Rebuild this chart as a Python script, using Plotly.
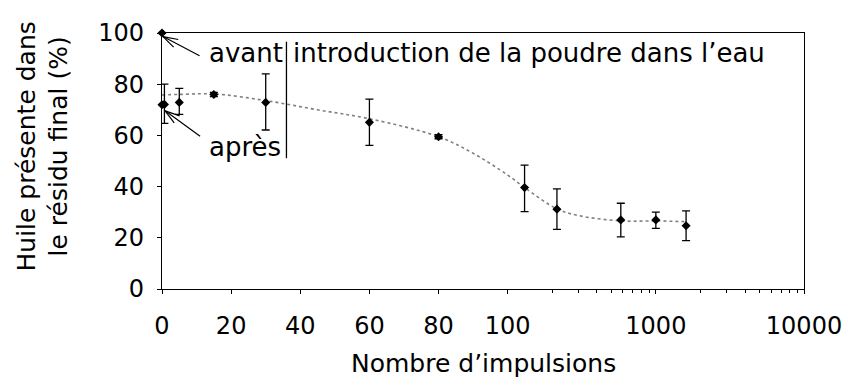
import math
import plotly.graph_objects as go

# Measured oil content in the final residue versus number of pulses
pulses = [0, 0, 0.7, 5, 15, 30, 60, 80, 130, 215, 580, 1000, 1600]
oil_pct = [100, 72, 72.1, 72.9, 76.0, 72.9, 65.1, 59.5, 39.6, 31.2, 27.0, 27.0, 24.7]
err_plus = [0, 0, 7.9, 5.5, 0.8, 11.1, 9.1, 0.8, 8.8, 7.9, 6.5, 3.0, 5.8]
err_minus = [0, 0, 7.4, 4.7, 0.8, 10.8, 9.0, 0.8, 9.4, 7.9, 6.6, 3.3, 5.8]

# Smooth trend line drawn through the measurements
trend_x = [0, 5, 15, 30, 45, 60, 80, 90, 100, 130, 215, 300, 580, 1000, 1600]
trend_y = [75.8, 76.0, 76.2, 73.6, 70.0, 66.5, 59.5, 53.0, 44.5, 39.6, 31.3, 28.7, 26.6, 26.6, 26.3]

# Axis ticks: linear from 0 to 100, then logarithmic decades
lin_ticks = [0, 20, 40, 60, 80, 100]
log_ticks = [1000, 10000]
minor_log_ticks = [200, 300, 400, 500, 600, 700, 800, 900,
                   2000, 3000, 4000, 5000, 6000, 7000, 8000, 9000]
y_ticks = [0, 20, 40, 60, 80, 100]

DECADE = 150 / 3.5  # width of one log decade in linear-axis units


def xpos(v):
    """Map a pulse count to the broken linear/log axis."""
    if v <= 100:
        return v
    return 100 + DECADE * math.log10(v / 100)


FONT = "DejaVu Sans"

fig = go.Figure()

fig.add_trace(go.Scatter(
    x=[xpos(v) for v in trend_x], y=trend_y,
    mode="lines", line=dict(color="#808080", width=1.6, dash="dot", shape="spline", smoothing=1.0),
    hoverinfo="skip", showlegend=False,
))

fig.add_trace(go.Scatter(
    x=[xpos(v) for v in pulses], y=oil_pct,
    mode="markers",
    marker=dict(symbol="diamond", size=7, color="black"),
    error_y=dict(type="data", symmetric=False, array=err_plus, arrayminus=err_minus,
                 color="black", thickness=1.3, width=4),
    cliponaxis=False, showlegend=False,
))

# separator between "avant/après" and the event label
fig.add_shape(type="line", xref="x", yref="y", x0=36, x1=36, y0=96.6, y1=51.1,
              line=dict(color="black", width=1.3))

annotations = []


def open_arrow(tip_x, tip_y, dx, dy, head=17, spread=17):
    """Shaft plus two short wings forming an open arrowhead."""
    items = [dict(x=tip_x, y=tip_y, ax=dx, ay=dy)]
    ang = math.atan2(dy, dx)
    for s in (-1, 1):
        a = ang + s * math.radians(spread)
        items.append(dict(x=tip_x, y=tip_y, ax=head * math.cos(a), ay=head * math.sin(a)))
    for it in items:
        it.update(xref="x", yref="y", axref="pixel", ayref="pixel", text="",
                  showarrow=True, arrowhead=0, arrowwidth=1.2, arrowcolor="black",
                  standoff=0, startstandoff=0)
    return items


annotations += open_arrow(0.3, 98.6, 38, 20)
annotations += open_arrow(0.9, 69.6, 36.5, 26.5)

label_font = dict(family=FONT, size=26, color="black")
title_font = dict(family=FONT, size=25, color="black")
annotations += [
    dict(x=13.1, y=92.0, xref="x", yref="y", text="avant", showarrow=False,
         xanchor="left", yanchor="middle", font=label_font),
    dict(x=37.2, y=92.0, xref="x", yref="y", text="introduction de la poudre dans l’eau",
         showarrow=False, xanchor="left", yanchor="middle", font=label_font),
    dict(x=13.1, y=55.5, xref="x", yref="y", text="après", showarrow=False,
         xanchor="left", yanchor="middle", font=label_font),
    dict(x=-0.186, y=0.555, xref="paper", yref="paper", textangle=-90,
         text="Huile présente dans<br>le résidu final (%)", showarrow=False,
         xanchor="center", yanchor="middle", font=title_font),
    dict(x=0.5, y=-0.29, xref="paper", yref="paper", text="Nombre d’impulsions",
         showarrow=False, xanchor="center", yanchor="middle", font=title_font),
]

fig.update_layout(
    width=854, height=386,
    margin=dict(l=162, r=43, t=33, b=97),
    paper_bgcolor="white", plot_bgcolor="white",
    font=dict(family=FONT, size=24, color="black"),
    annotations=annotations,
    xaxis=dict(
        range=[0, xpos(10000)], tickmode="array",
        tickvals=[xpos(v) for v in lin_ticks + log_ticks],
        ticktext=[str(v) for v in lin_ticks + log_ticks],
        ticks="outside", ticklen=4, tickwidth=1.2, tickcolor="black",
        showline=True, linecolor="black", linewidth=1.3, mirror=True,
        showgrid=False, zeroline=False, ticklabelstandoff=11,
        minor=dict(tickmode="array", tickvals=[xpos(v) for v in minor_log_ticks],
                   ticks="outside", ticklen=3, tickwidth=1, tickcolor="black", showgrid=False),
    ),
    yaxis=dict(
        range=[0, 100], tickmode="array", tickvals=y_ticks,
        ticks="outside", ticklen=4, tickwidth=1.2, tickcolor="black",
        showline=True, linecolor="black", linewidth=1.3, mirror=True,
        showgrid=False, zeroline=False, ticklabelstandoff=8,
    ),
)

fig.write_html("out.html")
